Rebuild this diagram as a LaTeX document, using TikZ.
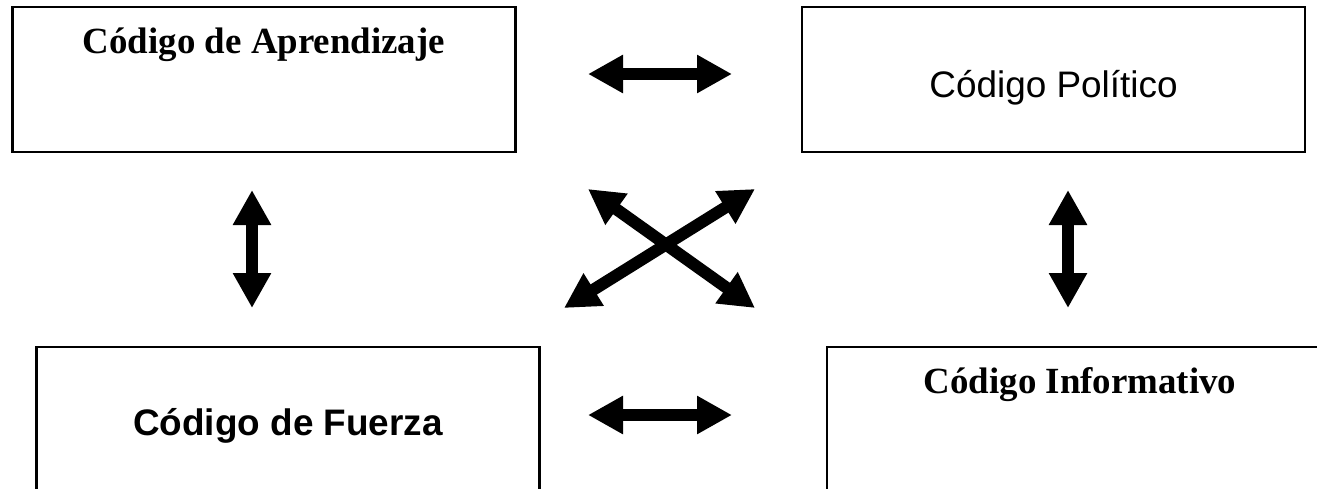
\documentclass[tikz,border=0pt]{standalone}
\usepackage{fontspec}
\setmainfont{Liberation Serif}
\newfontfamily\arialfont{Liberation Sans}
\usetikzlibrary{arrows.meta}
\usetikzlibrary{positioning}

\begin{document}
\begin{tikzpicture}[
  x=0.2mm, y=-0.2mm,
  box/.style={rectangle, draw, line width=0.5mm, minimum width=100.6mm, minimum height=29mm},
  title/.style={anchor=base, inner sep=0pt, font=\fontsize{21}{25}\selectfont},
  link/.style={<->, line width=2.4mm},
]
\tikzset{>={Triangle[length=7mm, width=7.2mm]}}
\useasboundingbox (0,0) rectangle (1317,488);

  % Boxes
  \node[box] (apr) at (264, 79.5)   {};
  \node[box] (pol) at (1053.5, 79.5) {};
  \node[box] (fue) at (288, 419.5)  {};
  \node[box] (inf) at (1078.5, 419.5) {};

  % Texts
  \node[title, font=\fontsize{21}{25}\selectfont\bfseries] (aprtext) at (264, 53) {Código de Aprendizaje};
  \node[title, font=\fontsize{21}{25}\selectfont\arialfont] (poltext) at (1053.5, 97) {Código Político};
  \node[title, font=\fontsize{21}{25}\selectfont\arialfont\bfseries] (fuetext) at (288, 435) {Código de Fuerza};
  \node[title, font=\fontsize{21}{25}\selectfont\bfseries] (inftext) at (1080, 393) {Código Informativo};

  % Arrow ends
  \coordinate (topl) at (588, 74);
  \coordinate (topr) at (732, 74);
  \coordinate (botl) at (588, 415);
  \coordinate (botr) at (732, 415);
  \coordinate (leftu) at (252, 190);
  \coordinate (leftd) at (252, 308);
  \coordinate (rightu) at (1068, 190);
  \coordinate (rightd) at (1068, 308);
  \coordinate (crossa) at (588, 189);
  \coordinate (crossb) at (755, 308);
  \coordinate (crossc) at (564, 308);
  \coordinate (crossd) at (755, 189);

  % Arrows
  \draw[link] (topl) -- (topr);
  \draw[link] (botl) -- (botr);
  \draw[link] (leftu) -- (leftd);
  \draw[link] (rightu) -- (rightd);
  \draw[link] (crossa) -- (crossb);
  \draw[link] (crossc) -- (crossd);

\end{tikzpicture}
\end{document}
